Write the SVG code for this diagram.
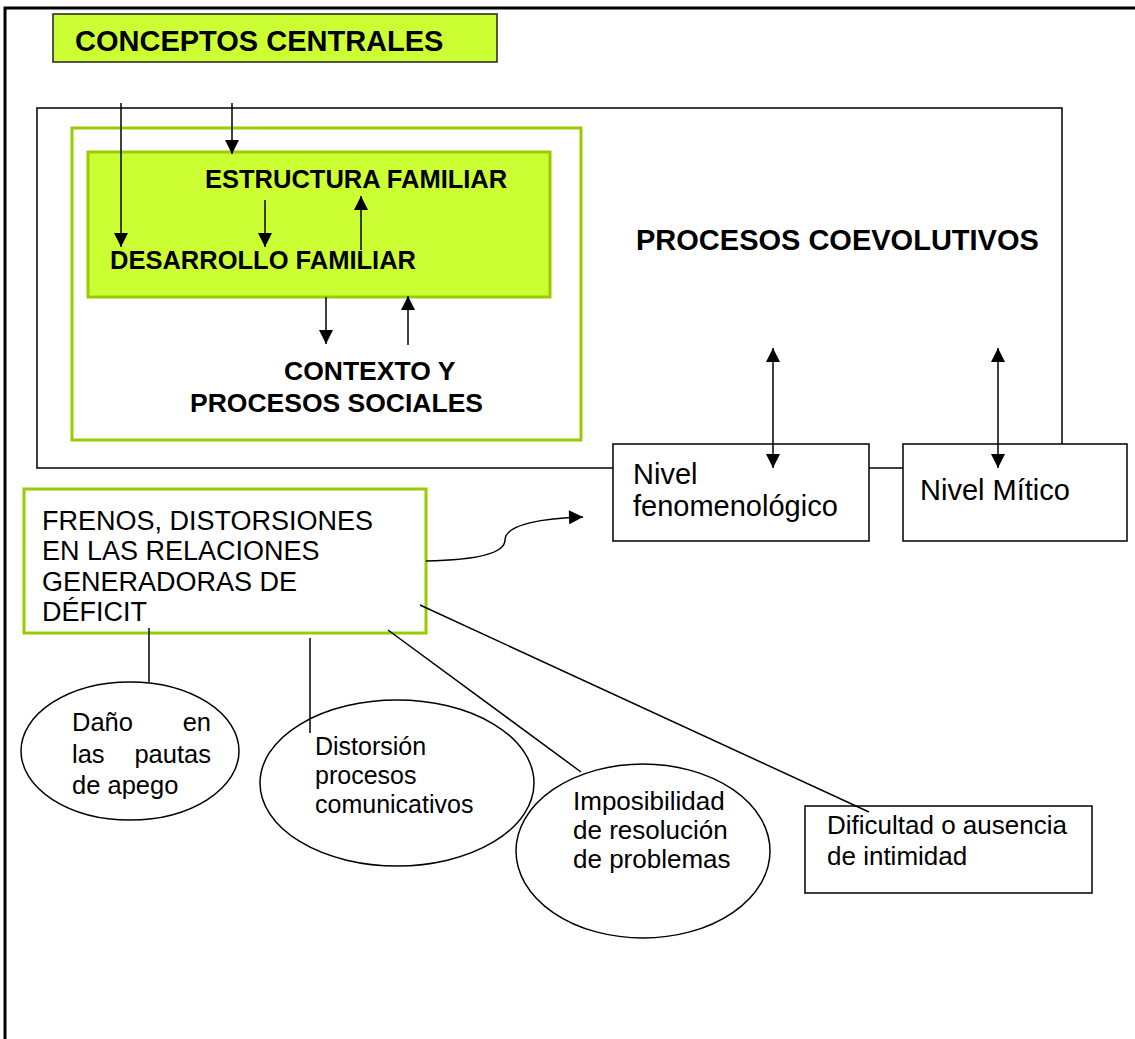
<svg xmlns="http://www.w3.org/2000/svg" width="1135" height="1039" viewBox="0 0 1135 1039">
<style>
.b{font-family:"Liberation Sans",Arial,sans-serif;font-weight:bold;fill:#000}
.r{font-family:"Liberation Sans",Arial,sans-serif;fill:#000}
.blk{fill:#fff;stroke:#000;stroke-width:1.5}
.grn{fill:#fff;stroke:#99cc00;stroke-width:3}
.ln{stroke:#000;stroke-width:1.5;fill:none}
</style>
<defs>
<marker id="ah2" viewBox="0 0 10 10" refX="10" refY="5" markerWidth="15" markerHeight="14" markerUnits="userSpaceOnUse" orient="auto-start-reverse">
<path d="M0,0 L10,5 L0,10 z" fill="#000"/>
</marker>
</defs>
<rect width="1135" height="1039" fill="#fff"/>
<g id="frame">
<path d="M5,1039 L5,8 L1135,8" fill="none" stroke="#000" stroke-width="3"/>
</g>
<g id="conceptos">
<rect x="53" y="14" width="444" height="48" fill="#ccff33" stroke="#222" stroke-width="1.5"/>
<text class="b" x="75" y="51" font-size="29">CONCEPTOS CENTRALES</text>
</g>
<g id="procesos-coevolutivos">
<rect class="blk" x="37" y="108" width="1025" height="360"/>
<text class="b" x="636" y="250" font-size="29">PROCESOS COEVOLUTIVOS</text>
</g>
<g id="contexto">
<rect class="grn" x="72" y="128" width="509" height="312"/>
<text class="b" font-size="26.5"><tspan x="284" y="380">CONTEXTO Y</tspan><tspan x="190" y="412">PROCESOS SOCIALES</tspan></text>
</g>
<g id="familia">
<rect x="88" y="152" width="462" height="145" fill="#ccff33" stroke="#99cc00" stroke-width="3"/>
<text class="b" x="205" y="188" font-size="25.5">ESTRUCTURA FAMILIAR</text>
<text class="b" x="110" y="269" font-size="25.5">DESARROLLO FAMILIAR</text>
</g>
<g id="nivel-fenomenologico">
<rect class="blk" x="613" y="444" width="256" height="97"/>
<text class="r" font-size="29"><tspan x="633" y="484">Nivel</tspan><tspan x="633" y="516">fenomenológico</tspan></text>
</g>
<g id="nivel-mitico">
<rect class="blk" x="903" y="444" width="224" height="97"/>
<text class="r" x="920" y="500" font-size="29">Nivel Mítico</text>
</g>
<g id="frenos">
<rect class="grn" x="24" y="489" width="402" height="144"/>
<text class="r" font-size="27"><tspan x="42" y="530">FRENOS, DISTORSIONES</tspan><tspan x="42" y="560">EN LAS RELACIONES</tspan><tspan x="42" y="591">GENERADORAS DE</tspan><tspan x="42" y="621">DÉFICIT</tspan></text>
</g>
<g id="dano">
<ellipse class="blk" cx="130" cy="751" rx="109" ry="69"/>
<text class="r" font-size="25.5"><tspan x="72" y="731">Daño</tspan><tspan x="211" y="731" text-anchor="end">en</tspan><tspan x="72" y="763">las</tspan><tspan x="211" y="763" text-anchor="end">pautas</tspan><tspan x="72" y="794">de apego</tspan></text>
</g>
<g id="distorsion">
<ellipse class="blk" cx="397" cy="783" rx="137" ry="83"/>
<text class="r" font-size="25"><tspan x="315" y="755">Distorsión</tspan><tspan x="315" y="784">procesos</tspan><tspan x="315" y="813">comunicativos</tspan></text>
</g>
<g id="imposibilidad">
<ellipse class="blk" cx="643" cy="851" rx="127" ry="87"/>
<text class="r" font-size="26"><tspan x="573" y="810">Imposibilidad</tspan><tspan x="573" y="839">de resolución</tspan><tspan x="573" y="868">de problemas</tspan></text>
</g>
<g id="dificultad">
<rect class="blk" x="805" y="806" width="287" height="87"/>
<text class="r" font-size="26"><tspan x="827" y="834">Dificultad o ausencia</tspan><tspan x="827" y="865">de intimidad</tspan></text>
</g>
<g id="connectors">
<line class="ln" x1="121" y1="103" x2="121" y2="247" marker-end="url(#ah2)"/>
<line class="ln" x1="232" y1="103" x2="232" y2="154" marker-end="url(#ah2)"/>
<line class="ln" x1="265" y1="200" x2="265" y2="247" marker-end="url(#ah2)"/>
<line class="ln" x1="361" y1="250" x2="361" y2="196" marker-end="url(#ah2)"/>
<line class="ln" x1="326" y1="297" x2="326" y2="344" marker-end="url(#ah2)"/>
<line class="ln" x1="408" y1="345" x2="408" y2="296" marker-end="url(#ah2)"/>
<line class="ln" x1="773" y1="348" x2="773" y2="468" marker-start="url(#ah2)" marker-end="url(#ah2)"/>
<line class="ln" x1="998" y1="348" x2="998" y2="468" marker-start="url(#ah2)" marker-end="url(#ah2)"/>
<path class="ln" d="M426,561 C478,560 505,553 505,540 C505,524 545,518 583,517" marker-end="url(#ah2)"/>
<line class="ln" x1="149" y1="628" x2="149" y2="682"/>
<line class="ln" x1="310" y1="638" x2="310" y2="733"/>
<line class="ln" x1="388" y1="630" x2="581" y2="772"/>
<line class="ln" x1="420" y1="605" x2="869" y2="812"/>
</g>
</svg>
